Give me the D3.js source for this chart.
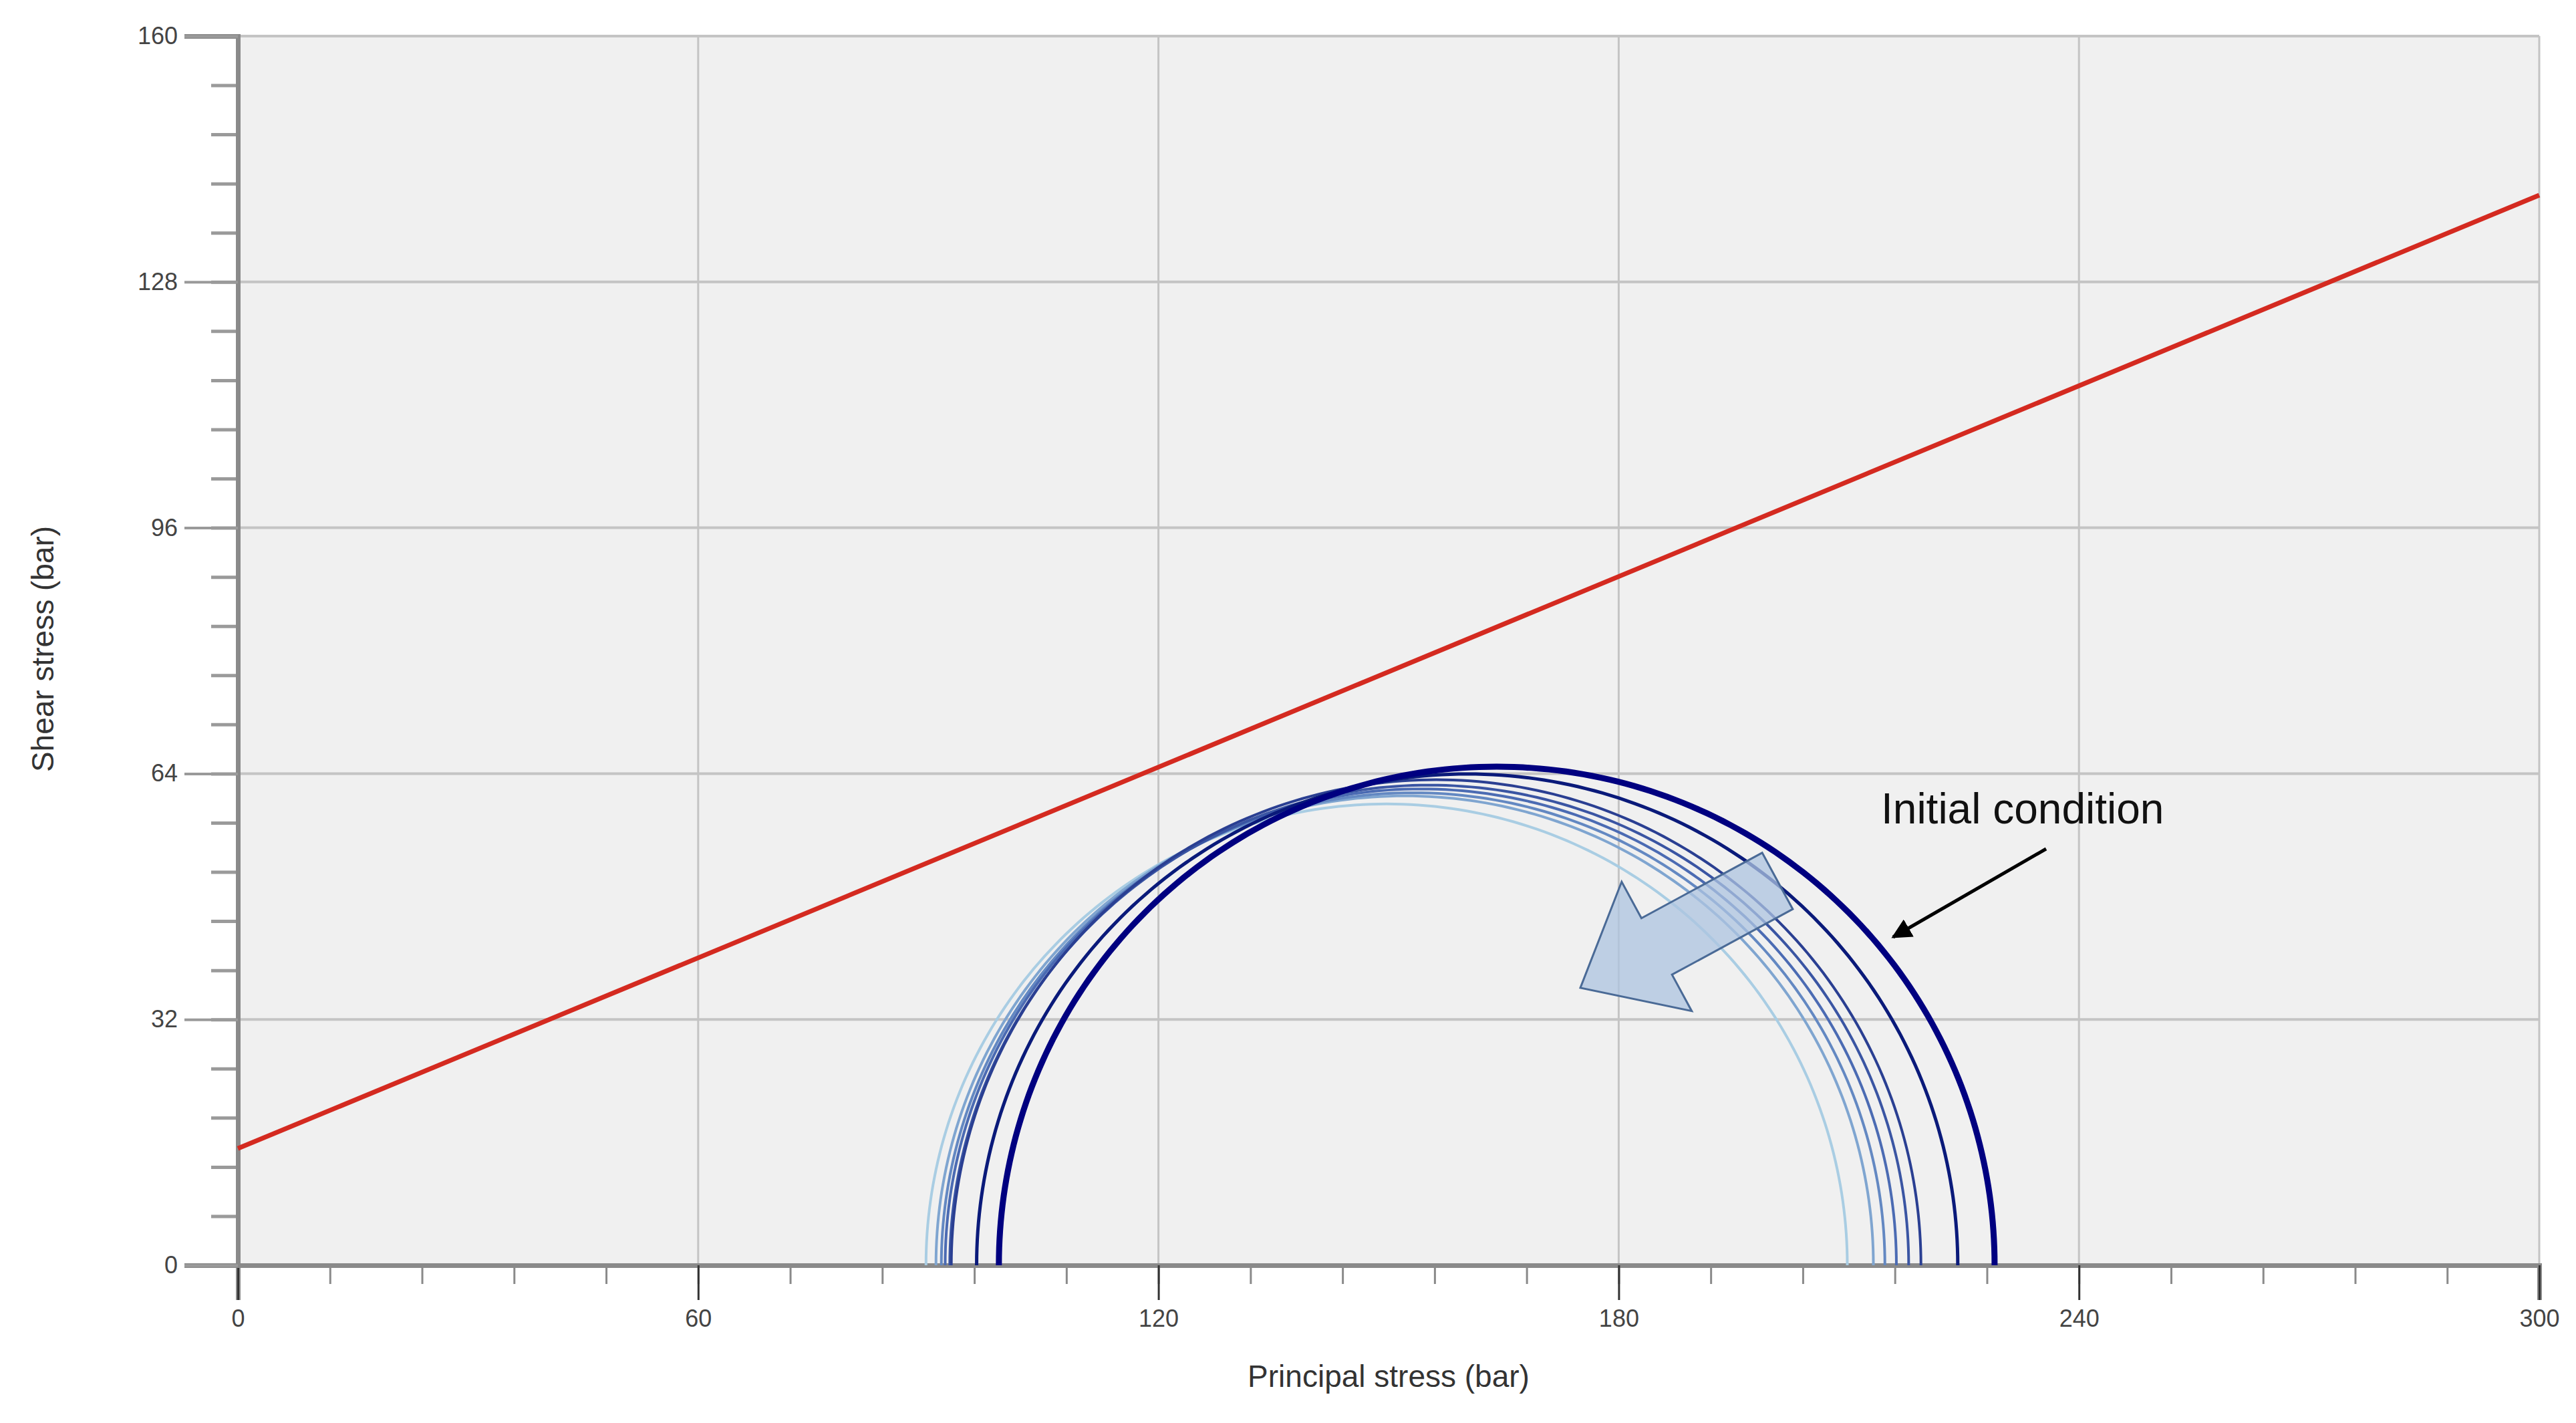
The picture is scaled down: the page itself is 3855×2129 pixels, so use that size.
<!DOCTYPE html>
<html>
<head>
<meta charset="utf-8">
<script src="https://cdn.jsdelivr.net/npm/d3@7"></script>
<style>
  body { margin: 0; background: #fff; }
  text { font-family: "Liberation Sans", Arial, sans-serif; }
</style>
</head>
<body>
<svg id="chart" width="3855" height="2129"></svg>
<script>
// Mohr circles: minor / major principal stress (bar), initial condition first
var sigma3 = [99.2, 96.3, 93.0, 92.8, 92.2, 91.7, 91.0, 89.7];
var sigma1 = [229.0, 224.2, 219.4, 217.8, 216.2, 214.7, 213.2, 209.8];
var circleColors = ["#000080", "#0a1a7a", "#2a3f92", "#3a55a3", "#4b6bb3", "#6388c2", "#7fa5d0", "#a9cde3"];
var circleWidths = [9, 5, 4, 4, 4, 4, 4, 4];

// failure envelope (cohesion + friction)
var envX = [0, 300];
var envY = [15.2, 139.3];

var xTicks = [0, 60, 120, 180, 240, 300];
var yTicks = [0, 32, 64, 96, 128, 160];

var svg = d3.select("#chart");
var pLeft = 356, pRight = 3800, pTop = 54, pBottom = 1893;

var x = d3.scaleLinear().domain([0, 300]).range([pLeft, pRight]);
var y = d3.scaleLinear().domain([0, 160]).range([pBottom, pTop]);

svg.append("rect")
    .attr("x", pLeft).attr("y", pTop)
    .attr("width", pRight - pLeft).attr("height", pBottom - pTop)
    .attr("fill", "#f0f0f0");

// grid
svg.selectAll(".gx").data(xTicks.slice(1)).enter().append("line")
    .attr("x1", d => x(d)).attr("x2", d => x(d))
    .attr("y1", pTop).attr("y2", pBottom)
    .attr("stroke", "#c4c4c4").attr("stroke-width", 3);
svg.selectAll(".gy").data(yTicks.slice(1)).enter().append("line")
    .attr("x1", pLeft).attr("x2", pRight)
    .attr("y1", d => y(d)).attr("y2", d => y(d))
    .attr("stroke", "#c4c4c4").attr("stroke-width", 4);

// axes
var xAxis = svg.append("g").attr("transform", "translate(0," + pBottom + ")");
xAxis.call(d3.axisBottom(x).tickValues(d3.range(0, 301, 12)).tickSize(28).tickFormat(""));
xAxis.call(g => g.selectAll(".tick line").attr("stroke", "#8a8a8a").attr("stroke-width", 3));
xAxis.call(g => g.select(".domain").remove());
var xMajor = svg.append("g").attr("transform", "translate(0," + pBottom + ")")
    .call(d3.axisBottom(x).tickValues(xTicks).tickSize(52).tickPadding(14));
xMajor.select(".domain").attr("stroke", "#8a8a8a").attr("stroke-width", 7);
xMajor.selectAll(".tick line").attr("stroke", "#333").attr("stroke-width", 3);
xMajor.selectAll(".tick text").attr("font-size", 36).attr("fill", "#444");

var yAxis = svg.append("g").attr("transform", "translate(" + pLeft + ",0)");
yAxis.call(d3.axisLeft(y).tickValues(d3.range(0, 161, 6.4)).tickSize(40).tickFormat(""));
yAxis.call(g => g.selectAll(".tick line").attr("stroke", "#9a9a9a").attr("stroke-width", 5));
yAxis.call(g => g.select(".domain").remove());
var yMajor = svg.append("g").attr("transform", "translate(" + pLeft + ",0)")
    .call(d3.axisLeft(y).tickValues(yTicks).tickSize(80).tickPadding(10));
yMajor.select(".domain").attr("stroke", "#8a8a8a").attr("stroke-width", 7);
yMajor.selectAll(".tick line").attr("stroke", "#9a9a9a").attr("stroke-width", 4);
yMajor.selectAll(".tick text").attr("font-size", 36).attr("fill", "#444");

// envelope
svg.append("line")
    .attr("x1", x(envX[0])).attr("y1", y(envY[0]))
    .attr("x2", x(envX[1])).attr("y2", y(envY[1]))
    .attr("stroke", "#d42a20").attr("stroke-width", 7);

// Mohr circles, drawn lightest first
var idx = d3.range(sigma3.length).reverse();
var line = d3.line().x(d => x(d[0])).y(d => y(d[1]));
svg.selectAll(".mohr").data(idx).enter().append("path")
    .attr("d", function(i) {
        var c = (sigma1[i] + sigma3[i]) / 2, r = (sigma1[i] - sigma3[i]) / 2;
        var pts = d3.range(0, 181).map(a => [c - r * Math.cos(a * Math.PI / 180), r * Math.sin(a * Math.PI / 180)]);
        return line(pts);
    })
    .attr("fill", "none")
    .attr("stroke", i => circleColors[i])
    .attr("stroke-width", i => circleWidths[i]);

// block arrow showing the shift of circles
var tip = [2365, 1478], tail = [2660, 1318];
var ang = Math.atan2(tip[1] - tail[1], tip[0] - tail[0]) * 180 / Math.PI;
var len = Math.hypot(tip[0] - tail[0], tip[1] - tail[1]);
var sw = 48, hw = 110, hl = 130;
var shape = [[0, -sw], [len - hl, -sw], [len - hl, -hw], [len, 0], [len - hl, hw], [len - hl, sw], [0, sw]];
svg.append("polygon")
    .attr("points", shape.map(p => p.join(",")).join(" "))
    .attr("transform", "translate(" + tail + ") rotate(" + ang + ")")
    .attr("fill", "#aec4e0").attr("fill-opacity", 0.75)
    .attr("stroke", "#4a6a96").attr("stroke-width", 3);

// annotation
svg.append("defs").append("marker")
    .attr("id", "head").attr("viewBox", "0 0 10 10").attr("refX", 9).attr("refY", 5)
    .attr("markerWidth", 6).attr("markerHeight", 6).attr("orient", "auto")
    .append("path").attr("d", "M0,0L10,5L0,10z").attr("fill", "#000");
svg.append("line")
    .attr("x1", 3062).attr("y1", 1270).attr("x2", 2833).attr("y2", 1402)
    .attr("stroke", "#000").attr("stroke-width", 5).attr("marker-end", "url(#head)");
svg.append("text").attr("x", 2815).attr("y", 1232)
    .attr("font-family", "Open Sans, Noto Sans, sans-serif")
    .attr("font-size", 64).attr("fill", "#111").text("Initial condition");

// axis titles
svg.append("text").attr("x", 2078).attr("y", 2075).attr("text-anchor", "middle")
    .attr("font-size", 46).attr("fill", "#333").text("Principal stress (bar)");
svg.append("text").attr("transform", "translate(80,971) rotate(-90)").attr("text-anchor", "middle")
    .attr("font-size", 46).attr("fill", "#333").text("Shear stress (bar)");
</script>
</body>
</html>
